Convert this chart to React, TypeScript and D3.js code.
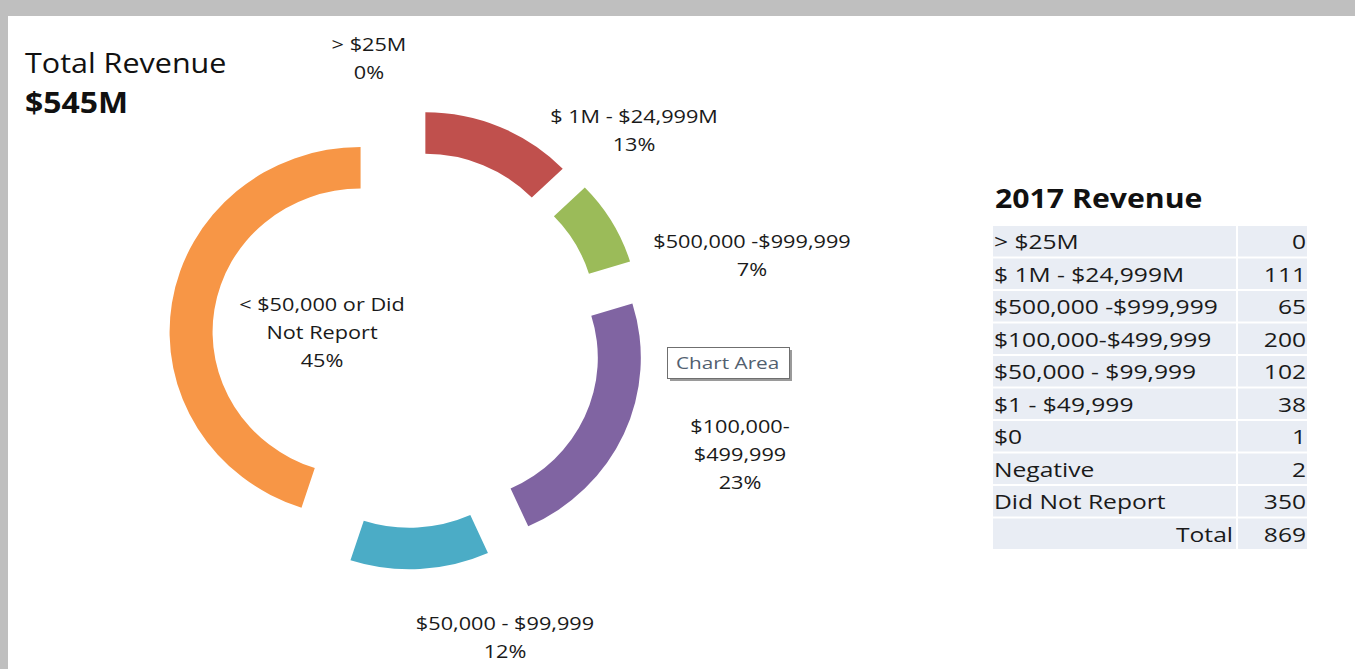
import React, { useEffect, useRef } from 'react';
import * as d3 from 'd3';

// donut slices, clockwise from 12 o'clock
const categories = [
  '> $25M',
  '$ 1M - $24,999M',
  '$500,000 -$999,999',
  '$100,000-$499,999',
  '$50,000 - $99,999',
  '< $50,000 or Did Not Report'
];
const donutValues = [0, 111, 65, 200, 102, 391];

// label text as it wraps on the chart
const labelLines = [
  ['> $25M'],
  ['$ 1M - $24,999M'],
  ['$500,000 -$999,999'],
  ['$100,000-', '$499,999'],
  ['$50,000 - $99,999'],
  ['< $50,000 or Did', 'Not Report']
];

// 2017 revenue table
const tableLabels = [
  '> $25M',
  '$ 1M - $24,999M',
  '$500,000 -$999,999',
  '$100,000-$499,999',
  '$50,000 - $99,999',
  '$1 - $49,999',
  '$0',
  'Negative',
  'Did Not Report'
];
const tableValues = [0, 111, 65, 200, 102, 38, 1, 2, 350];

const totalRevenue = '$545M';

const W = 1355,
  H = 669;
const colors = ['#4f81bd', '#c0504d', '#9bbb59', '#8064a2', '#4bacc6', '#f79646'];
const EXPLODE = 47; // every slice pulled out of the ring
// where Excel left each data label (centre of the first line)
const labelPos = [
  [369, 44],
  [634, 116],
  [752, 241],
  [740, 426],
  [505, 623],
  [322, 304]
];
const FONT = '"Open Sans", Lato, sans-serif';

// the screenshot is a little stretched sideways, so text gets an x scale
function txt(parent, x, y, str, size, opts: any = {}) {
  const t = parent
    .append('text')
    .attr('transform', `translate(${x},${y}) scale(${opts.sx || 1.17},1)`)
    .attr('text-anchor', opts.anchor || 'start')
    .attr('dominant-baseline', 'central')
    .style('font-family', FONT)
    .style('font-size', size + 'px')
    .style('font-weight', opts.bold ? 'bold' : 'normal')
    .style('fill', opts.fill || '#1a1a1a');
  const lines = Array.isArray(str) ? str : [str];
  lines.forEach((l, j) => {
    t.append('tspan')
      .attr('x', 0)
      .attr('y', j * (opts.lh || 0))
      .text(l);
  });
  return t;
}

function App() {
  const ref = useRef(null);

  useEffect(() => {
    const svg = d3.select(ref.current);
    svg.selectAll('*').remove();

    // window frame
    svg.append('rect').attr('width', W).attr('height', H).attr('fill', '#bfbfbf');
    svg.append('rect').attr('x', 8).attr('y', 16).attr('width', W - 8).attr('height', H - 16).attr('fill', '#fff');

    // titles
    txt(svg, 25, 62, 'Total Revenue', 27, { sx: 1.13, fill: '#111' });
    txt(svg, 25, 102, totalRevenue, 29, { sx: 1.1, bold: true, fill: '#111' });

    // donut (slightly squashed vertically, like the screenshot)
    const total = d3.sum(donutValues);
    const cx = 407,
      cy = 339;
    const pie = d3
      .pie()
      .sort(null)
      .value(d => d)
      .startAngle(0)
      .endAngle(2 * Math.PI);
    const arc = d3.arc().innerRadius(148).outerRadius(191);
    const arcs = pie(donutValues);

    const g = svg.append('g').attr('transform', `translate(${cx},${cy}) scale(1,0.968)`);
    g.selectAll('path')
      .data(arcs.filter(d => d.value > 0))
      .enter()
      .append('path')
      .attr('d', arc)
      .attr('transform', d => {
        const mid = (d.startAngle + d.endAngle) / 2;
        return `translate(${Math.sin(mid) * EXPLODE},${-Math.cos(mid) * EXPLODE})`;
      })
      .style('fill', d => colors[d.index]);

    // data labels
    const lg = svg.append('g');
    categories.forEach((c, i) => {
      const lines = labelLines[i].concat([Math.round((donutValues[i] / total) * 100) + '%']);
      txt(lg, labelPos[i][0], labelPos[i][1], lines, 17.5, { anchor: 'middle', lh: 28, sx: 1.24 });
    });

    // "Chart Area" tooltip
    const tip = svg.append('g').attr('transform', 'translate(667,347)');
    tip.append('rect').attr('x', 3).attr('y', 3).attr('width', 122).attr('height', 31).attr('fill', '#9a9a9a');
    tip
      .append('rect')
      .attr('x', 0.5)
      .attr('y', 0.5)
      .attr('width', 122)
      .attr('height', 31)
      .attr('fill', '#fff')
      .attr('stroke', '#6f6f6f');
    txt(tip, 9, 16, 'Chart Area', 17, { sx: 1.22, fill: '#52606f' });

    // table
    txt(svg, 995, 197, '2017 Revenue', 27, { sx: 1.12, bold: true, fill: '#111' });

    const rows = tableLabels.map((l, i) => ({ label: l, value: tableValues[i], total: false }));
    rows.push({ label: 'Total', value: d3.sum(tableValues), total: true });
    const y = d3
      .scaleBand()
      .domain(rows.map(d => d.label))
      .range([226, 551]);
    const col1 = [993, 1236],
      col2 = [1238, 1307];

    const tg = svg.append('g');
    rows.forEach(d => {
      const ry = y(d.label);
      tg.append('rect')
        .attr('x', col1[0])
        .attr('y', ry)
        .attr('width', col1[1] - col1[0])
        .attr('height', y.bandwidth() - 2)
        .attr('fill', '#e9edf4');
      tg.append('rect')
        .attr('x', col2[0])
        .attr('y', ry)
        .attr('width', col2[1] - col2[0])
        .attr('height', y.bandwidth() - 2)
        .attr('fill', '#e9edf4');
      const mid = ry + y.bandwidth() / 2 - 1;
      if (d.total) txt(tg, col1[1] - 3, mid, d.label, 20.5, { anchor: 'end', sx: 1.2 });
      else txt(tg, col1[0] + 1, mid, d.label, 20.5, { sx: 1.2 });
      txt(tg, col2[1] - 1, mid, String(d.value), 20.5, { anchor: 'end', sx: 1.2 });
    });
  }, []);

  return (
    <svg
      ref={ref}
      width={W}
      height={H}
      style={{ position: 'absolute', left: 0, top: 0, display: 'block' }}
    />
  );
}

export default App;
